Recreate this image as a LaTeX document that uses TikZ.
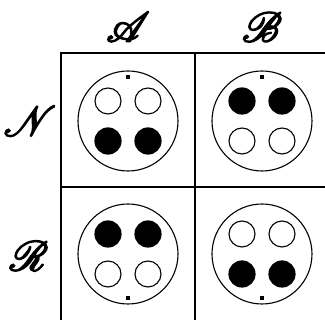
\documentclass[tikz,border=0pt]{standalone}
\usepackage{mathrsfs}
\usepackage{graphicx}
\newcommand{\heavyletter}[1]{\scalebox{4.2}{\special{pdf:code q 2 Tr 0.35 w}$\mathscr{#1}$\special{pdf:code Q}}}
\begin{document}
\begin{tikzpicture}[x=1pt,y=-1pt,
  gridline/.style={line width=1.6pt},
  outer/.style={line width=1.1pt},
  hole/.style={line width=1.1pt, fill=white},
  full/.style={fill=black},
  lbl/.style={inner sep=0pt}]
\useasboundingbox (0,0) rectangle (325,320);
% grid
\coordinate (t0) at (61,53); \coordinate (t2) at (325,53);
\coordinate (m0) at (61,187); \coordinate (m2) at (325,187);
\coordinate (v0) at (61,320); \coordinate (vt1) at (195,53); \coordinate (v1) at (195,320);
\draw[gridline] (t2) -- (t0) -- (v0);
\draw[gridline] (m0) -- (m2);
\draw[gridline] (vt1) -- (v1);
% labels
\node[lbl] (la) at (128,27) {\heavyletter{A}};
\node[lbl] (lb) at (262,27) {\heavyletter{B}};
\node[lbl] (ln) at (30,121) {\heavyletter{N}};
\node[lbl] (lr) at (29,256) {\heavyletter{R}};
% cell NA
\begin{scope}[shift={(128,121)}]
\draw[outer] (0,0) circle (50);
\fill (-1.8,-45.8) rectangle (1.8,-42.2);
\draw[hole] (-20,-20) circle (13);
\draw[hole] (20,-20) circle (13);
\fill[full] (-20,20) circle (13.6);
\fill[full] (20,20) circle (13.6);
\end{scope}
% cell NB
\begin{scope}[shift={(262,121)}]
\draw[outer] (0,0) circle (50);
\fill (-1.8,-45.8) rectangle (1.8,-42.2);
\fill[full] (-20,-20) circle (13.6);
\fill[full] (20,-20) circle (13.6);
\draw[hole] (-20,20) circle (13);
\draw[hole] (20,20) circle (13);
\end{scope}
% cell RA
\begin{scope}[shift={(128,254)}]
\draw[outer] (0,0) circle (50);
\fill (-1.8,42.2) rectangle (1.8,45.8);
\fill[full] (-20,-20) circle (13.6);
\fill[full] (20,-20) circle (13.6);
\draw[hole] (-20,20) circle (13);
\draw[hole] (20,20) circle (13);
\end{scope}
% cell RB
\begin{scope}[shift={(262,254)}]
\draw[outer] (0,0) circle (50);
\fill (-1.8,42.2) rectangle (1.8,45.8);
\draw[hole] (-20,-20) circle (13);
\draw[hole] (20,-20) circle (13);
\fill[full] (-20,20) circle (13.6);
\fill[full] (20,20) circle (13.6);
\end{scope}
\end{tikzpicture}
\end{document}
